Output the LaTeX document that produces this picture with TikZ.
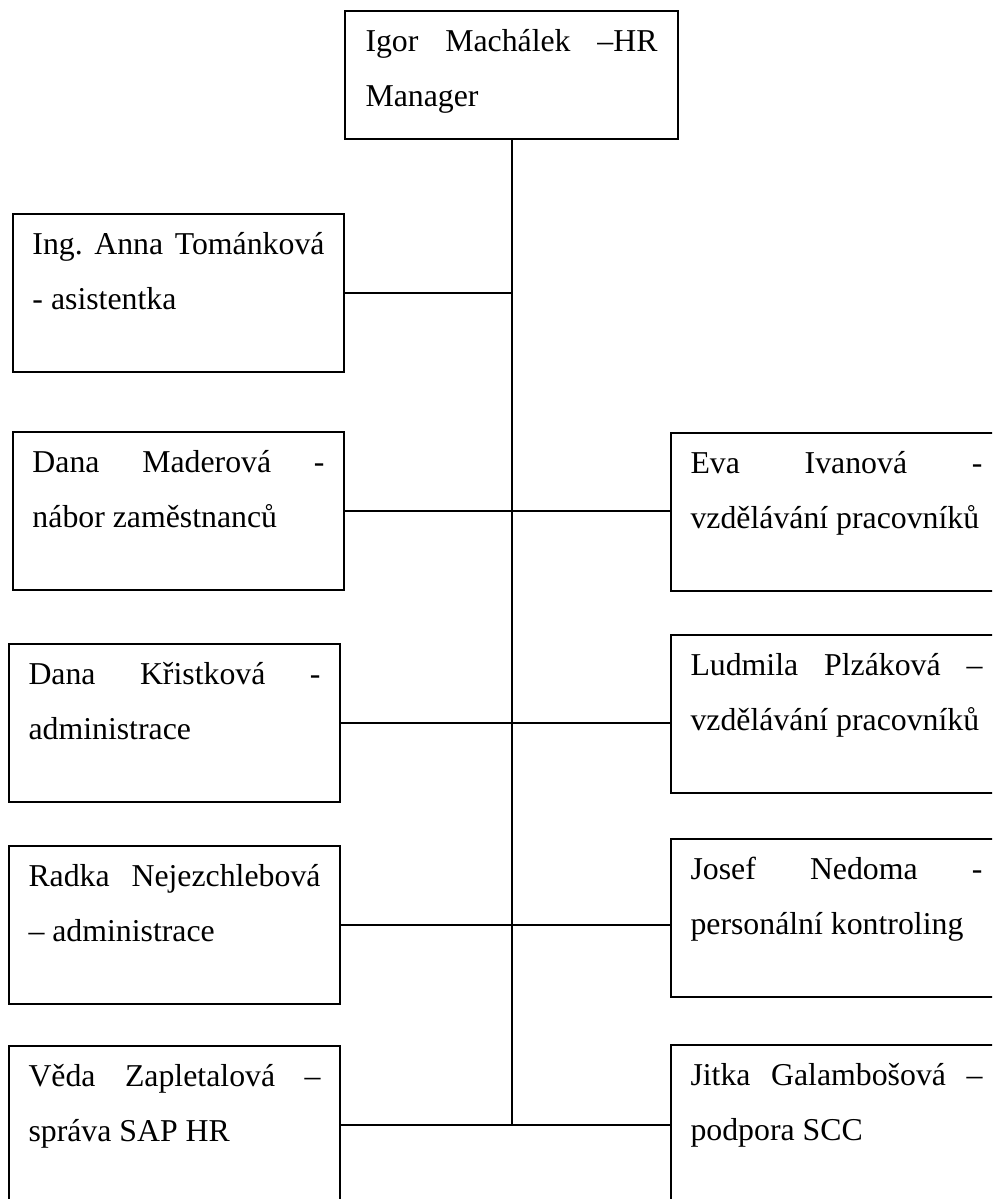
\documentclass[tikz,border=0pt]{standalone}
\usepackage{fontspec}
\setmainfont{Liberation Serif}
\usepackage{tikz}
\usetikzlibrary{positioning}

% two lines of a box, the first one stretched over the width
\newcommand{\boxtext}[3][77pt]{\parbox[c][#1][t]{146pt}{\strut #2\\\strut #3}}

\begin{document}
\begin{tikzpicture}[
			staffbox/.style={rectangle, draw=black, line width=1pt, inner sep=0pt, minimum width=165.5pt, minimum height=79pt, font=\fontsize{15.9pt}{27.5pt}\selectfont},
			link/.style={line width=1pt}
		]
		\useasboundingbox (0,0) rectangle (496pt,-599.5pt);
		\clip (0,0) rectangle (496pt,-599.5pt);

		\node (igor) [staffbox, anchor=north, minimum width=166.5pt, minimum height=64pt] at (255.75pt,-5pt) {\boxtext[62pt]{Igor\hfill Machálek\hfill –HR}{Manager}};

		% left column
		\node (anna) [staffbox, anchor=north west] at (6pt,-106.5pt) {\boxtext{Ing.\hfill Anna\hfill Tománková}{- asistentka}};
		\node (maderova) [staffbox, below=29pt of anna] {\boxtext{Dana\hfill Maderová\hfill -}{nábor zaměstnanců}};
		\node (kristkova) [staffbox, below=26pt of maderova, xshift=-2pt] {\boxtext{Dana\hfill Křistková\hfill -}{administrace}};
		\node (radka) [staffbox, below=21pt of kristkova] {\boxtext{Radka\hfill Nejezchlebová}{– administrace}};
		\node (veda) [staffbox, below=20pt of radka] {\boxtext{Věda\hfill Zapletalová\hfill –}{správa SAP HR}};

		% right column
		\node (eva) [staffbox, right=162.5pt of maderova, yshift=-0.5pt] {\boxtext{Eva\hfill Ivanová\hfill -}{vzdělávání pracovníků}};
		\node (ludmila) [staffbox, below=21pt of eva] {\boxtext{Ludmila\hfill Plzáková\hfill –}{vzdělávání pracovníků}};
		\node (josef) [staffbox, below=22pt of ludmila] {\boxtext{Josef\hfill Nedoma\hfill -}{personální kontroling}};
		\node (jitka) [staffbox, below=23pt of josef] {\boxtext{Jitka\hfill Galambošová\hfill –}{podpora SCC}};

		\draw [link] (igor.south) -- (igor.south |- veda.east);
		\draw [link] (anna.east) -- (anna.east -| igor.south);
		\draw [link] (maderova.east) -- (maderova.east -| eva.west);
		\draw [link] (kristkova.east) -- (kristkova.east -| ludmila.west);
		\draw [link] (radka.east) -- (radka.east -| josef.west);
		\draw [link] (veda.east) -- (veda.east -| jitka.west);

	\end{tikzpicture}
\end{document}
